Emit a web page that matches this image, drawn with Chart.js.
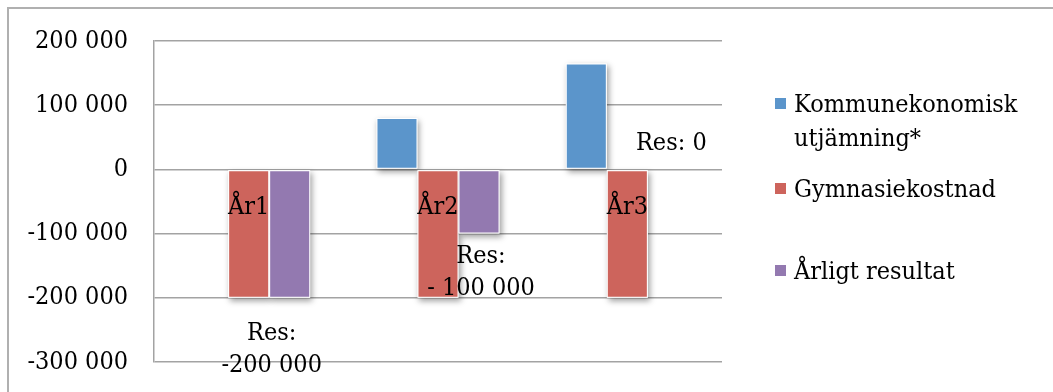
<!DOCTYPE html>
<html lang="sv">
<head>
<meta charset="utf-8">
<title>Kommunekonomisk utjämning och gymnasiekostnad</title>
<script src="https://cdn.jsdelivr.net/npm/chart.js@4/dist/chart.umd.min.js"></script>
<style>
  html, body { margin: 0; padding: 0; background: #fff; }
  #wrap { position: relative; width: 1053px; height: 392px; overflow: hidden; }
  #frame {
    position: absolute; left: 7px; top: 7px; width: 1100px; height: 420px;
    border-left: 2px solid #b0b0b0; border-top: 2px solid #b0b0b0;
    box-sizing: border-box;
  }
  #chart { position: absolute; left: 0; top: 0; }
  #legend {
    position: absolute; left: 775px; top: 0; width: 275px;
    font-family: 'DejaVu Serif Condensed', 'Liberation Serif', serif; font-size: 25px; line-height: 34px; color: #000;
  }
  .item { position: absolute; left: 0; padding-left: 19px; white-space: nowrap; }
  .swatch { position: absolute; left: 0; top: 11px; width: 11px; height: 11px; }
</style>
</head>
<body>
<div id="wrap">
  <div id="frame"></div>
  <canvas id="chart" width="1053" height="392"></canvas>
  <div id="legend"></div>
</div>
<script>
// Categories and series
const categories = ['År1', 'År2', 'År3'];
const utjamning = [0, 80000, 165000];          // Kommunekonomisk utjämning*
const gymnasiekostnad = [-200000, -200000, -200000];
const arligtResultat = [-200000, -100000, 0];

// Axis ticks
const yTicks = [-300000, -200000, -100000, 0, 100000, 200000];

// Series names (legend lines) and colours
const seriesNames = [['Kommunekonomisk', 'utjämning*'], ['Gymnasiekostnad'], ['Årligt resultat']];
const seriesColors = ['#5b95cb', '#cd645c', '#9379b0'];

// Result notes per year, with their placement (x offset from category centre in px, baseline in axis units)
const resultNotes = [['Res:', '-200 000'], ['Res:', '- 100 000'], ['Res: 0']];
const noteOffsetX = [23, 43, 44];
const noteBaseline = [-265000, -146000, 30000];

const FONT = "'DejaVu Serif Condensed', 'Liberation Serif', serif";
const FSIZE = 25;
const GRID = '#a3a3a3';

function fmt(v) {
  const s = Math.abs(v).toString().replace(/\B(?=(\d{3})+(?!\d))/g, ' ');
  return (v < 0 ? '-' : '') + s;
}

// Soft drop shadow behind every bar
const barShadow = {
  id: 'barShadow',
  beforeDatasetsDraw(chart) {
    const ctx = chart.ctx;
    ctx.save();
    ctx.shadowColor = 'rgba(0,0,0,0.38)';
    ctx.shadowBlur = 6;
    ctx.shadowOffsetX = 2;
    ctx.shadowOffsetY = 3;
    ctx.fillStyle = '#fff';
    chart.data.datasets.forEach((ds, i) => {
      chart.getDatasetMeta(i).data.forEach(bar => {
        const h = Math.abs(bar.base - bar.y);
        if (h < 1) return;
        ctx.fillRect(bar.x - bar.width / 2, Math.min(bar.y, bar.base), bar.width, h);
      });
    });
    ctx.restore();
  }
};

// Category names next to the zero line, and the "Res:" notes, drawn over the bars
const overlayText = {
  id: 'overlayText',
  afterDatasetsDraw(chart) {
    const ctx = chart.ctx;
    const xs = chart.scales.x, ys = chart.scales.y;
    ctx.save();
    ctx.font = FSIZE + 'px ' + FONT;
    ctx.fillStyle = '#000';
    ctx.textAlign = 'center';
    ctx.textBaseline = 'alphabetic';
    const zero = ys.getPixelForValue(0);
    categories.forEach((c, i) => ctx.fillText(c, xs.getPixelForValue(i), zero + 45));
    resultNotes.forEach((lines, i) => {
      const cx = xs.getPixelForValue(i) + noteOffsetX[i];
      const by = ys.getPixelForValue(noteBaseline[i]);
      lines.forEach((t, k) => ctx.fillText(t, cx, by + k * 32));
    });
    ctx.restore();
  }
};

const datasets = [utjamning, gymnasiekostnad, arligtResultat].map((vals, i) => ({
  label: seriesNames[i].join(' '),
  data: vals,
  backgroundColor: seriesColors[i],
  borderColor: '#ffffff',
  borderWidth: 1,
  borderSkipped: false,
  categoryPercentage: 0.65,
  barPercentage: 1.0
}));

new Chart(document.getElementById('chart'), {
  type: 'bar',
  data: { labels: categories, datasets },
  options: {
    responsive: false,
    animation: false,
    devicePixelRatio: 1,
    layout: { padding: { left: 0, top: 41, right: 331, bottom: 30 } },
    plugins: { legend: { display: false }, tooltip: { enabled: false } },
    scales: {
      x: {
        display: false
      },
      y: {
        min: yTicks[0],
        max: yTicks[yTicks.length - 1],
        afterBuildTicks(scale) { scale.ticks = yTicks.map(v => ({ value: v })); },
        afterFit(scale) {
          scale.width = 154;
          // the outer layout padding already leaves room for the end labels
          scale.paddingTop = 0;
          scale.paddingBottom = 0;
        },
        grid: { color: GRID, lineWidth: 1.5, drawTicks: false },
        border: { display: true, color: GRID, width: 1.5 },
        ticks: { color: '#000', font: { family: FONT, size: FSIZE }, padding: 26, callback: v => fmt(v) }
      }
    }
  },
  plugins: [barShadow, overlayText]
});

// Legend on the right
const legend = document.getElementById('legend');
const itemTops = [87, 172, 254];
seriesNames.forEach((lines, i) => {
  const item = document.createElement('div');
  item.className = 'item';
  item.style.top = itemTops[i] + 'px';
  const sw = document.createElement('span');
  sw.className = 'swatch';
  sw.style.background = seriesColors[i];
  item.appendChild(sw);
  lines.forEach((t, k) => {
    if (k) item.appendChild(document.createElement('br'));
    item.appendChild(document.createTextNode(t));
  });
  legend.appendChild(item);
});
</script>
</body>
</html>
